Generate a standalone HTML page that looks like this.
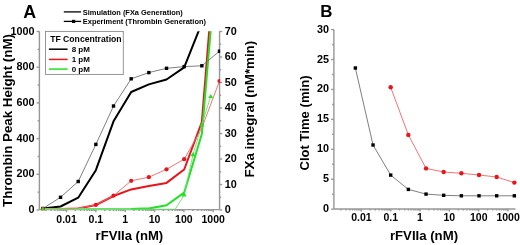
<!DOCTYPE html>
<html><head><meta charset="utf-8"><style>
html,body{margin:0;padding:0;background:#fff;}
body{width:520px;height:245px;overflow:hidden;}
svg{display:block;will-change:transform;}
text{font-family:"Liberation Sans",sans-serif;font-weight:bold;}
</style></head><body>
<svg width="520" height="245" viewBox="0 0 520 245">
<rect width="520" height="245" fill="#fff"/>
<text x="23.3" y="17.5"  font-size="17.8">A</text>
<line x1="63.8" y1="11.9" x2="81.1" y2="11.9" stroke="#000" stroke-width="1.3"/>
<line x1="63.8" y1="21.4" x2="81.1" y2="21.4" stroke="#000" stroke-width="1.3"/>
<rect x="72.0" y="19.8" width="3.2" height="3.2" fill="#000"/>
<text x="82.8" y="14.6"  font-size="7.45">Simulation (FXa Generation)</text>
<text x="82.8" y="24.0"  font-size="7.45">Experiment (Thrombin Generation)</text>
<line x1="39.4" y1="31.3" x2="39.4" y2="209.6" stroke="#979797" stroke-width="1.4"/>
<line x1="219.55" y1="31.3" x2="219.55" y2="209.6" stroke="#979797" stroke-width="1.4"/>
<line x1="39.4" y1="209.6" x2="219.55" y2="209.6" stroke="#979797" stroke-width="1.4"/>
<line x1="36.6" y1="210.00" x2="39.4" y2="210.00" stroke="#979797" stroke-width="1.4"/>
<text x="34.5" y="213.00"  font-size="10.8" text-anchor="end">0</text>
<line x1="37.6" y1="192.15" x2="39.4" y2="192.15" stroke="#979797" stroke-width="1.4"/>
<line x1="36.6" y1="174.30" x2="39.4" y2="174.30" stroke="#979797" stroke-width="1.4"/>
<text x="34.5" y="177.30"  font-size="10.8" text-anchor="end">200</text>
<line x1="37.6" y1="156.45" x2="39.4" y2="156.45" stroke="#979797" stroke-width="1.4"/>
<line x1="36.6" y1="138.60" x2="39.4" y2="138.60" stroke="#979797" stroke-width="1.4"/>
<text x="34.5" y="141.60"  font-size="10.8" text-anchor="end">400</text>
<line x1="37.6" y1="120.75" x2="39.4" y2="120.75" stroke="#979797" stroke-width="1.4"/>
<line x1="36.6" y1="102.90" x2="39.4" y2="102.90" stroke="#979797" stroke-width="1.4"/>
<text x="34.5" y="105.90"  font-size="10.8" text-anchor="end">600</text>
<line x1="37.6" y1="85.05" x2="39.4" y2="85.05" stroke="#979797" stroke-width="1.4"/>
<line x1="36.6" y1="67.20" x2="39.4" y2="67.20" stroke="#979797" stroke-width="1.4"/>
<text x="34.5" y="70.20"  font-size="10.8" text-anchor="end">800</text>
<line x1="37.6" y1="49.35" x2="39.4" y2="49.35" stroke="#979797" stroke-width="1.4"/>
<line x1="36.6" y1="31.50" x2="39.4" y2="31.50" stroke="#979797" stroke-width="1.4"/>
<text x="34.5" y="34.50"  font-size="10.8" text-anchor="end">1000</text>
<line x1="219.55" y1="210.00" x2="222.15" y2="210.00" stroke="#979797" stroke-width="1.4"/>
<text x="224.8" y="213.00"  font-size="10.8">0</text>
<line x1="219.55" y1="197.25" x2="221.15" y2="197.25" stroke="#979797" stroke-width="1.4"/>
<line x1="219.55" y1="184.50" x2="222.15" y2="184.50" stroke="#979797" stroke-width="1.4"/>
<text x="224.8" y="187.50"  font-size="10.8">10</text>
<line x1="219.55" y1="171.75" x2="221.15" y2="171.75" stroke="#979797" stroke-width="1.4"/>
<line x1="219.55" y1="159.00" x2="222.15" y2="159.00" stroke="#979797" stroke-width="1.4"/>
<text x="224.8" y="162.00"  font-size="10.8">20</text>
<line x1="219.55" y1="146.25" x2="221.15" y2="146.25" stroke="#979797" stroke-width="1.4"/>
<line x1="219.55" y1="133.50" x2="222.15" y2="133.50" stroke="#979797" stroke-width="1.4"/>
<text x="224.8" y="136.50"  font-size="10.8">30</text>
<line x1="219.55" y1="120.75" x2="221.15" y2="120.75" stroke="#979797" stroke-width="1.4"/>
<line x1="219.55" y1="108.00" x2="222.15" y2="108.00" stroke="#979797" stroke-width="1.4"/>
<text x="224.8" y="111.00"  font-size="10.8">40</text>
<line x1="219.55" y1="95.25" x2="221.15" y2="95.25" stroke="#979797" stroke-width="1.4"/>
<line x1="219.55" y1="82.50" x2="222.15" y2="82.50" stroke="#979797" stroke-width="1.4"/>
<text x="224.8" y="85.50"  font-size="10.8">50</text>
<line x1="219.55" y1="69.75" x2="221.15" y2="69.75" stroke="#979797" stroke-width="1.4"/>
<line x1="219.55" y1="57.00" x2="222.15" y2="57.00" stroke="#979797" stroke-width="1.4"/>
<text x="224.8" y="60.00"  font-size="10.8">60</text>
<line x1="219.55" y1="44.25" x2="221.15" y2="44.25" stroke="#979797" stroke-width="1.4"/>
<line x1="219.55" y1="31.50" x2="222.15" y2="31.50" stroke="#979797" stroke-width="1.4"/>
<text x="224.8" y="34.50"  font-size="10.8">70</text>
<line x1="46.01" y1="209.6" x2="46.01" y2="211.1" stroke="#979797" stroke-width="1.4"/>
<line x1="51.18" y1="209.6" x2="51.18" y2="211.1" stroke="#979797" stroke-width="1.4"/>
<line x1="54.84" y1="209.6" x2="54.84" y2="211.1" stroke="#979797" stroke-width="1.4"/>
<line x1="57.69" y1="209.6" x2="57.69" y2="211.1" stroke="#979797" stroke-width="1.4"/>
<line x1="60.01" y1="209.6" x2="60.01" y2="211.1" stroke="#979797" stroke-width="1.4"/>
<line x1="61.98" y1="209.6" x2="61.98" y2="211.1" stroke="#979797" stroke-width="1.4"/>
<line x1="63.68" y1="209.6" x2="63.68" y2="211.1" stroke="#979797" stroke-width="1.4"/>
<line x1="65.18" y1="209.6" x2="65.18" y2="211.1" stroke="#979797" stroke-width="1.4"/>
<line x1="66.52" y1="209.6" x2="66.52" y2="212.2" stroke="#979797" stroke-width="1.4"/>
<text x="66.52" y="223.1"  font-size="10.5" text-anchor="middle">0.01</text>
<line x1="75.35" y1="209.6" x2="75.35" y2="211.1" stroke="#979797" stroke-width="1.4"/>
<line x1="80.52" y1="209.6" x2="80.52" y2="211.1" stroke="#979797" stroke-width="1.4"/>
<line x1="84.18" y1="209.6" x2="84.18" y2="211.1" stroke="#979797" stroke-width="1.4"/>
<line x1="87.03" y1="209.6" x2="87.03" y2="211.1" stroke="#979797" stroke-width="1.4"/>
<line x1="89.35" y1="209.6" x2="89.35" y2="211.1" stroke="#979797" stroke-width="1.4"/>
<line x1="91.32" y1="209.6" x2="91.32" y2="211.1" stroke="#979797" stroke-width="1.4"/>
<line x1="93.02" y1="209.6" x2="93.02" y2="211.1" stroke="#979797" stroke-width="1.4"/>
<line x1="94.52" y1="209.6" x2="94.52" y2="211.1" stroke="#979797" stroke-width="1.4"/>
<line x1="95.86" y1="209.6" x2="95.86" y2="212.2" stroke="#979797" stroke-width="1.4"/>
<text x="95.86" y="223.1"  font-size="10.5" text-anchor="middle">0.1</text>
<line x1="104.69" y1="209.6" x2="104.69" y2="211.1" stroke="#979797" stroke-width="1.4"/>
<line x1="109.86" y1="209.6" x2="109.86" y2="211.1" stroke="#979797" stroke-width="1.4"/>
<line x1="113.52" y1="209.6" x2="113.52" y2="211.1" stroke="#979797" stroke-width="1.4"/>
<line x1="116.37" y1="209.6" x2="116.37" y2="211.1" stroke="#979797" stroke-width="1.4"/>
<line x1="118.69" y1="209.6" x2="118.69" y2="211.1" stroke="#979797" stroke-width="1.4"/>
<line x1="120.66" y1="209.6" x2="120.66" y2="211.1" stroke="#979797" stroke-width="1.4"/>
<line x1="122.36" y1="209.6" x2="122.36" y2="211.1" stroke="#979797" stroke-width="1.4"/>
<line x1="123.86" y1="209.6" x2="123.86" y2="211.1" stroke="#979797" stroke-width="1.4"/>
<line x1="125.20" y1="209.6" x2="125.20" y2="212.2" stroke="#979797" stroke-width="1.4"/>
<text x="125.20" y="223.1"  font-size="10.5" text-anchor="middle">1</text>
<line x1="134.03" y1="209.6" x2="134.03" y2="211.1" stroke="#979797" stroke-width="1.4"/>
<line x1="139.20" y1="209.6" x2="139.20" y2="211.1" stroke="#979797" stroke-width="1.4"/>
<line x1="142.86" y1="209.6" x2="142.86" y2="211.1" stroke="#979797" stroke-width="1.4"/>
<line x1="145.71" y1="209.6" x2="145.71" y2="211.1" stroke="#979797" stroke-width="1.4"/>
<line x1="148.03" y1="209.6" x2="148.03" y2="211.1" stroke="#979797" stroke-width="1.4"/>
<line x1="150.00" y1="209.6" x2="150.00" y2="211.1" stroke="#979797" stroke-width="1.4"/>
<line x1="151.70" y1="209.6" x2="151.70" y2="211.1" stroke="#979797" stroke-width="1.4"/>
<line x1="153.20" y1="209.6" x2="153.20" y2="211.1" stroke="#979797" stroke-width="1.4"/>
<line x1="154.54" y1="209.6" x2="154.54" y2="212.2" stroke="#979797" stroke-width="1.4"/>
<text x="154.54" y="223.1"  font-size="10.5" text-anchor="middle">10</text>
<line x1="163.37" y1="209.6" x2="163.37" y2="211.1" stroke="#979797" stroke-width="1.4"/>
<line x1="168.54" y1="209.6" x2="168.54" y2="211.1" stroke="#979797" stroke-width="1.4"/>
<line x1="172.20" y1="209.6" x2="172.20" y2="211.1" stroke="#979797" stroke-width="1.4"/>
<line x1="175.05" y1="209.6" x2="175.05" y2="211.1" stroke="#979797" stroke-width="1.4"/>
<line x1="177.37" y1="209.6" x2="177.37" y2="211.1" stroke="#979797" stroke-width="1.4"/>
<line x1="179.34" y1="209.6" x2="179.34" y2="211.1" stroke="#979797" stroke-width="1.4"/>
<line x1="181.04" y1="209.6" x2="181.04" y2="211.1" stroke="#979797" stroke-width="1.4"/>
<line x1="182.54" y1="209.6" x2="182.54" y2="211.1" stroke="#979797" stroke-width="1.4"/>
<line x1="183.88" y1="209.6" x2="183.88" y2="212.2" stroke="#979797" stroke-width="1.4"/>
<text x="183.88" y="223.1"  font-size="10.5" text-anchor="middle">100</text>
<line x1="192.71" y1="209.6" x2="192.71" y2="211.1" stroke="#979797" stroke-width="1.4"/>
<line x1="197.88" y1="209.6" x2="197.88" y2="211.1" stroke="#979797" stroke-width="1.4"/>
<line x1="201.54" y1="209.6" x2="201.54" y2="211.1" stroke="#979797" stroke-width="1.4"/>
<line x1="204.39" y1="209.6" x2="204.39" y2="211.1" stroke="#979797" stroke-width="1.4"/>
<line x1="206.71" y1="209.6" x2="206.71" y2="211.1" stroke="#979797" stroke-width="1.4"/>
<line x1="208.68" y1="209.6" x2="208.68" y2="211.1" stroke="#979797" stroke-width="1.4"/>
<line x1="210.38" y1="209.6" x2="210.38" y2="211.1" stroke="#979797" stroke-width="1.4"/>
<line x1="211.88" y1="209.6" x2="211.88" y2="211.1" stroke="#979797" stroke-width="1.4"/>
<line x1="213.22" y1="209.6" x2="213.22" y2="212.2" stroke="#979797" stroke-width="1.4"/>
<text x="213.22" y="223.1"  font-size="10.5" text-anchor="middle">1000</text>
<text x="129.4" y="240.4"  font-size="13.1" text-anchor="middle">rFVIIa (nM)</text>
<text transform="translate(11.7,120.5) rotate(-90)"  font-size="13.3" text-anchor="middle">Thrombin Peak Height (nM)</text>
<text transform="translate(254.2,109.2) rotate(-90)"  font-size="13.3" text-anchor="middle">FXa integral (nM*min)</text>
<rect x="45.5" y="31.4" width="77.8" height="43.0" fill="#fff" stroke="#8a8a8a" stroke-width="0.9"/>
<text x="50.2" y="41.5"  font-size="8.65">TF Concentration</text>
<line x1="48.9" y1="49.2" x2="67.6" y2="49.2" stroke="#000" stroke-width="1.5"/>
<text x="71.7" y="52.1"  font-size="8.0">8 pM</text>
<line x1="48.9" y1="59.4" x2="67.6" y2="59.4" stroke="#e8141c" stroke-width="1.5"/>
<text x="71.7" y="62.3"  font-size="8.0">1 pM</text>
<line x1="48.9" y1="69.1" x2="67.6" y2="69.1" stroke="#22e022" stroke-width="1.5"/>
<text x="71.7" y="72.0"  font-size="8.0">0 pM</text>
<clipPath id="ca"><rect x="39.4" y="31.3" width="180.75" height="178.89999999999998"/></clipPath>
<g clip-path="url(#ca)"><polyline points="42.87,208.60 60.53,206.50 78.20,197.70 95.86,170.20 113.52,121.30 131.19,92.00 148.85,84.40 166.52,79.50 184.18,67.40 201.85,23.00 219.51,-20.00" fill="none" stroke="#000" stroke-width="2.0" stroke-linejoin="round"/><polyline points="42.87,209.00 60.53,208.90 78.20,208.50 95.86,205.00 113.52,196.00 131.19,189.40 148.85,186.10 166.52,182.90 184.18,169.50 201.85,122.00 219.51,-97.00" fill="none" stroke="#e8141c" stroke-width="2.0" stroke-linejoin="round"/><polyline points="42.87,209.00 60.53,209.00 78.20,209.00 95.86,209.00 113.52,209.00 131.19,208.90 148.85,208.50" fill="none" stroke="#6ee06e" stroke-width="2.0" stroke-linejoin="round"/><polyline points="131.19,208.90 148.85,208.50 166.52,205.20 184.18,192.60 201.85,134.00 219.51,-73.00" fill="none" stroke="#22e022" stroke-width="2.0" stroke-linejoin="round"/><polyline points="42.87,208.50 60.53,197.30 78.20,181.50 95.86,144.40 113.52,106.00 131.19,78.80 148.85,72.60 166.52,68.30 184.18,66.60 201.85,65.80 219.51,51.20" fill="none" stroke="#707070" stroke-width="0.9"/><polyline points="42.87,209.00 60.53,209.00 78.20,208.20 95.86,204.90 113.52,195.70 131.19,180.80 148.85,177.20 166.52,169.30 184.18,159.20 201.85,128.00 219.51,81.00" fill="none" stroke="#f06464" stroke-width="0.9"/><polyline points="42.87,209.20 51.70,209.20 60.53,209.20 69.36,209.20 78.20,209.20 87.03,209.20 95.86,209.20 104.69,209.20 113.52,209.20 122.36,209.20 131.19,209.20 140.02,209.20 148.85,209.20 157.69,209.20 166.52,209.20 175.35,209.20 184.18,194.80 193.01,154.60 201.85,124.70 210.68,96.40" fill="none" stroke="#70dc70" stroke-width="0.9"/><rect x="41.17" y="206.80" width="3.4" height="3.4" fill="#000"/><rect x="58.83" y="195.60" width="3.4" height="3.4" fill="#000"/><rect x="76.50" y="179.80" width="3.4" height="3.4" fill="#000"/><rect x="94.16" y="142.70" width="3.4" height="3.4" fill="#000"/><rect x="111.82" y="104.30" width="3.4" height="3.4" fill="#000"/><rect x="129.49" y="77.10" width="3.4" height="3.4" fill="#000"/><rect x="147.15" y="70.90" width="3.4" height="3.4" fill="#000"/><rect x="164.82" y="66.60" width="3.4" height="3.4" fill="#000"/><rect x="182.48" y="64.90" width="3.4" height="3.4" fill="#000"/><rect x="200.15" y="64.10" width="3.4" height="3.4" fill="#000"/><rect x="217.81" y="49.50" width="3.4" height="3.4" fill="#000"/><circle cx="42.87" cy="209.00" r="2.1" fill="#e8141c"/><circle cx="95.86" cy="204.90" r="2.1" fill="#e8141c"/><circle cx="113.52" cy="195.70" r="2.1" fill="#e8141c"/><circle cx="131.19" cy="180.80" r="2.1" fill="#e8141c"/><circle cx="148.85" cy="177.20" r="2.1" fill="#e8141c"/><circle cx="166.52" cy="169.30" r="2.1" fill="#e8141c"/><circle cx="184.18" cy="159.20" r="2.1" fill="#e8141c"/><circle cx="219.51" cy="81.00" r="2.1" fill="#e8141c"/><path d="M40.37,210.90 L42.87,206.70 L45.37,210.90 Z" fill="#22e022"/><path d="M181.68,196.50 L184.18,192.30 L186.68,196.50 Z" fill="#22e022"/><path d="M190.51,156.30 L193.01,152.10 L195.51,156.30 Z" fill="#22e022"/><path d="M199.35,126.40 L201.85,122.20 L204.35,126.40 Z" fill="#22e022"/><path d="M208.18,98.10 L210.68,93.90 L213.18,98.10 Z" fill="#22e022"/></g>
<text x="320.3" y="17.3"  font-size="16.9">B</text>
<line x1="333.9" y1="29.6" x2="333.9" y2="209.0" stroke="#979797" stroke-width="1.4"/>
<line x1="333.9" y1="209.0" x2="515.5" y2="209.0" stroke="#979797" stroke-width="1.4"/>
<line x1="331.09999999999997" y1="209.20" x2="333.9" y2="209.20" stroke="#979797" stroke-width="1.4"/>
<text x="329.0" y="212.20"  font-size="10.8" text-anchor="end">0</text>
<line x1="332.09999999999997" y1="194.23" x2="333.9" y2="194.23" stroke="#979797" stroke-width="1.4"/>
<line x1="331.09999999999997" y1="179.26" x2="333.9" y2="179.26" stroke="#979797" stroke-width="1.4"/>
<text x="329.0" y="182.26"  font-size="10.8" text-anchor="end">5</text>
<line x1="332.09999999999997" y1="164.30" x2="333.9" y2="164.30" stroke="#979797" stroke-width="1.4"/>
<line x1="331.09999999999997" y1="149.33" x2="333.9" y2="149.33" stroke="#979797" stroke-width="1.4"/>
<text x="329.0" y="152.33"  font-size="10.8" text-anchor="end">10</text>
<line x1="332.09999999999997" y1="134.36" x2="333.9" y2="134.36" stroke="#979797" stroke-width="1.4"/>
<line x1="331.09999999999997" y1="119.39" x2="333.9" y2="119.39" stroke="#979797" stroke-width="1.4"/>
<text x="329.0" y="122.39"  font-size="10.8" text-anchor="end">15</text>
<line x1="332.09999999999997" y1="104.43" x2="333.9" y2="104.43" stroke="#979797" stroke-width="1.4"/>
<line x1="331.09999999999997" y1="89.46" x2="333.9" y2="89.46" stroke="#979797" stroke-width="1.4"/>
<text x="329.0" y="92.46"  font-size="10.8" text-anchor="end">20</text>
<line x1="332.09999999999997" y1="74.49" x2="333.9" y2="74.49" stroke="#979797" stroke-width="1.4"/>
<line x1="331.09999999999997" y1="59.52" x2="333.9" y2="59.52" stroke="#979797" stroke-width="1.4"/>
<text x="329.0" y="62.52"  font-size="10.8" text-anchor="end">25</text>
<line x1="332.09999999999997" y1="44.56" x2="333.9" y2="44.56" stroke="#979797" stroke-width="1.4"/>
<line x1="331.09999999999997" y1="29.59" x2="333.9" y2="29.59" stroke="#979797" stroke-width="1.4"/>
<text x="329.0" y="32.59"  font-size="10.8" text-anchor="end">30</text>
<line x1="340.85" y1="209.0" x2="340.85" y2="210.5" stroke="#979797" stroke-width="1.4"/>
<line x1="346.02" y1="209.0" x2="346.02" y2="210.5" stroke="#979797" stroke-width="1.4"/>
<line x1="349.68" y1="209.0" x2="349.68" y2="210.5" stroke="#979797" stroke-width="1.4"/>
<line x1="352.53" y1="209.0" x2="352.53" y2="210.5" stroke="#979797" stroke-width="1.4"/>
<line x1="354.85" y1="209.0" x2="354.85" y2="210.5" stroke="#979797" stroke-width="1.4"/>
<line x1="356.82" y1="209.0" x2="356.82" y2="210.5" stroke="#979797" stroke-width="1.4"/>
<line x1="358.52" y1="209.0" x2="358.52" y2="210.5" stroke="#979797" stroke-width="1.4"/>
<line x1="360.02" y1="209.0" x2="360.02" y2="210.5" stroke="#979797" stroke-width="1.4"/>
<line x1="361.36" y1="209.0" x2="361.36" y2="211.6" stroke="#979797" stroke-width="1.4"/>
<text x="361.36" y="221.4"  font-size="10.5" text-anchor="middle">0.01</text>
<line x1="370.19" y1="209.0" x2="370.19" y2="210.5" stroke="#979797" stroke-width="1.4"/>
<line x1="375.36" y1="209.0" x2="375.36" y2="210.5" stroke="#979797" stroke-width="1.4"/>
<line x1="379.02" y1="209.0" x2="379.02" y2="210.5" stroke="#979797" stroke-width="1.4"/>
<line x1="381.87" y1="209.0" x2="381.87" y2="210.5" stroke="#979797" stroke-width="1.4"/>
<line x1="384.19" y1="209.0" x2="384.19" y2="210.5" stroke="#979797" stroke-width="1.4"/>
<line x1="386.16" y1="209.0" x2="386.16" y2="210.5" stroke="#979797" stroke-width="1.4"/>
<line x1="387.86" y1="209.0" x2="387.86" y2="210.5" stroke="#979797" stroke-width="1.4"/>
<line x1="389.36" y1="209.0" x2="389.36" y2="210.5" stroke="#979797" stroke-width="1.4"/>
<line x1="390.70" y1="209.0" x2="390.70" y2="211.6" stroke="#979797" stroke-width="1.4"/>
<text x="390.70" y="221.4"  font-size="10.5" text-anchor="middle">0.1</text>
<line x1="399.53" y1="209.0" x2="399.53" y2="210.5" stroke="#979797" stroke-width="1.4"/>
<line x1="404.70" y1="209.0" x2="404.70" y2="210.5" stroke="#979797" stroke-width="1.4"/>
<line x1="408.36" y1="209.0" x2="408.36" y2="210.5" stroke="#979797" stroke-width="1.4"/>
<line x1="411.21" y1="209.0" x2="411.21" y2="210.5" stroke="#979797" stroke-width="1.4"/>
<line x1="413.53" y1="209.0" x2="413.53" y2="210.5" stroke="#979797" stroke-width="1.4"/>
<line x1="415.50" y1="209.0" x2="415.50" y2="210.5" stroke="#979797" stroke-width="1.4"/>
<line x1="417.20" y1="209.0" x2="417.20" y2="210.5" stroke="#979797" stroke-width="1.4"/>
<line x1="418.70" y1="209.0" x2="418.70" y2="210.5" stroke="#979797" stroke-width="1.4"/>
<line x1="420.04" y1="209.0" x2="420.04" y2="211.6" stroke="#979797" stroke-width="1.4"/>
<text x="420.04" y="221.4"  font-size="10.5" text-anchor="middle">1</text>
<line x1="428.87" y1="209.0" x2="428.87" y2="210.5" stroke="#979797" stroke-width="1.4"/>
<line x1="434.04" y1="209.0" x2="434.04" y2="210.5" stroke="#979797" stroke-width="1.4"/>
<line x1="437.70" y1="209.0" x2="437.70" y2="210.5" stroke="#979797" stroke-width="1.4"/>
<line x1="440.55" y1="209.0" x2="440.55" y2="210.5" stroke="#979797" stroke-width="1.4"/>
<line x1="442.87" y1="209.0" x2="442.87" y2="210.5" stroke="#979797" stroke-width="1.4"/>
<line x1="444.84" y1="209.0" x2="444.84" y2="210.5" stroke="#979797" stroke-width="1.4"/>
<line x1="446.54" y1="209.0" x2="446.54" y2="210.5" stroke="#979797" stroke-width="1.4"/>
<line x1="448.04" y1="209.0" x2="448.04" y2="210.5" stroke="#979797" stroke-width="1.4"/>
<line x1="449.38" y1="209.0" x2="449.38" y2="211.6" stroke="#979797" stroke-width="1.4"/>
<text x="449.38" y="221.4"  font-size="10.5" text-anchor="middle">10</text>
<line x1="458.21" y1="209.0" x2="458.21" y2="210.5" stroke="#979797" stroke-width="1.4"/>
<line x1="463.38" y1="209.0" x2="463.38" y2="210.5" stroke="#979797" stroke-width="1.4"/>
<line x1="467.04" y1="209.0" x2="467.04" y2="210.5" stroke="#979797" stroke-width="1.4"/>
<line x1="469.89" y1="209.0" x2="469.89" y2="210.5" stroke="#979797" stroke-width="1.4"/>
<line x1="472.21" y1="209.0" x2="472.21" y2="210.5" stroke="#979797" stroke-width="1.4"/>
<line x1="474.18" y1="209.0" x2="474.18" y2="210.5" stroke="#979797" stroke-width="1.4"/>
<line x1="475.88" y1="209.0" x2="475.88" y2="210.5" stroke="#979797" stroke-width="1.4"/>
<line x1="477.38" y1="209.0" x2="477.38" y2="210.5" stroke="#979797" stroke-width="1.4"/>
<line x1="478.72" y1="209.0" x2="478.72" y2="211.6" stroke="#979797" stroke-width="1.4"/>
<text x="478.72" y="221.4"  font-size="10.5" text-anchor="middle">100</text>
<line x1="487.55" y1="209.0" x2="487.55" y2="210.5" stroke="#979797" stroke-width="1.4"/>
<line x1="492.72" y1="209.0" x2="492.72" y2="210.5" stroke="#979797" stroke-width="1.4"/>
<line x1="496.38" y1="209.0" x2="496.38" y2="210.5" stroke="#979797" stroke-width="1.4"/>
<line x1="499.23" y1="209.0" x2="499.23" y2="210.5" stroke="#979797" stroke-width="1.4"/>
<line x1="501.55" y1="209.0" x2="501.55" y2="210.5" stroke="#979797" stroke-width="1.4"/>
<line x1="503.52" y1="209.0" x2="503.52" y2="210.5" stroke="#979797" stroke-width="1.4"/>
<line x1="505.22" y1="209.0" x2="505.22" y2="210.5" stroke="#979797" stroke-width="1.4"/>
<line x1="506.72" y1="209.0" x2="506.72" y2="210.5" stroke="#979797" stroke-width="1.4"/>
<line x1="508.06" y1="209.0" x2="508.06" y2="211.6" stroke="#979797" stroke-width="1.4"/>
<text x="508.06" y="221.4"  font-size="10.5" text-anchor="middle">1000</text>
<text x="424.0" y="240.1"  font-size="13.2" text-anchor="middle">rFVIIa (nM)</text>
<text transform="translate(308.5,123.0) rotate(-90)"  font-size="13.1" text-anchor="middle">Clot Time (min)</text>
<polyline points="355.37,68.00 373.04,145.00 390.70,175.10 408.36,189.40 426.03,194.10 443.69,195.30 461.36,195.80 479.02,195.80 496.69,195.80 514.35,195.80" fill="none" stroke="#707070" stroke-width="0.9"/>
<polyline points="390.70,87.30 408.36,134.90 426.03,168.40 443.69,172.00 461.36,173.30 479.02,175.00 496.69,177.00 514.35,182.60" fill="none" stroke="#f06464" stroke-width="0.9"/>
<rect x="353.67" y="66.30" width="3.4" height="3.4" fill="#000"/>
<rect x="371.34" y="143.30" width="3.4" height="3.4" fill="#000"/>
<rect x="389.00" y="173.40" width="3.4" height="3.4" fill="#000"/>
<rect x="406.66" y="187.70" width="3.4" height="3.4" fill="#000"/>
<rect x="424.33" y="192.40" width="3.4" height="3.4" fill="#000"/>
<rect x="441.99" y="193.60" width="3.4" height="3.4" fill="#000"/>
<rect x="459.66" y="194.10" width="3.4" height="3.4" fill="#000"/>
<rect x="477.32" y="194.10" width="3.4" height="3.4" fill="#000"/>
<rect x="494.99" y="194.10" width="3.4" height="3.4" fill="#000"/>
<rect x="512.65" y="194.10" width="3.4" height="3.4" fill="#000"/>
<circle cx="390.70" cy="87.30" r="2.2" fill="#e8141c"/>
<circle cx="408.36" cy="134.90" r="2.2" fill="#e8141c"/>
<circle cx="426.03" cy="168.40" r="2.2" fill="#e8141c"/>
<circle cx="443.69" cy="172.00" r="2.2" fill="#e8141c"/>
<circle cx="461.36" cy="173.30" r="2.2" fill="#e8141c"/>
<circle cx="479.02" cy="175.00" r="2.2" fill="#e8141c"/>
<circle cx="496.69" cy="177.00" r="2.2" fill="#e8141c"/>
<circle cx="514.35" cy="182.60" r="2.2" fill="#e8141c"/>
</svg>
</body></html>
